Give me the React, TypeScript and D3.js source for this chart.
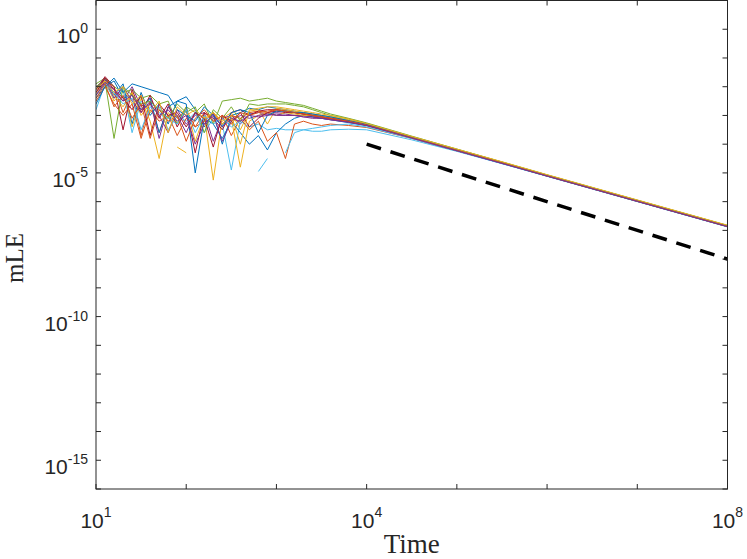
import { useEffect, useRef } from "react";
import * as d3 from "d3";

// log10(time) sample grid shared by all runs
const logTimes = [
  1.0, 1.1, 1.2, 1.3, 1.4, 1.5, 1.6, 1.7, 1.8, 1.9, 2.0, 2.1, 2.2, 2.3, 2.4, 2.5, 2.6,
  2.7, 2.8, 2.9, 3.0, 3.1, 3.2, 3.3, 3.4, 3.5, 3.6, 3.8, 4.0, 4.5, 5.0, 5.5, 6.0, 7.0, 8.0,
];

// log10(mLE) for each run, null = not positive (gap on the log axis)
const run01 = [-2.1,-1.7,-2.3,-1.9,-3.3,-2.2,-3.0,-2.6,-3.3,-2.5,-2.35,-2.8,-3.4,-2.9,-4.0,-3.0,-2.9,-2.75,-2.8,-2.7,-2.75,-2.8,-2.85,-2.9,-2.95,-3.0,-3.05,-3.18,-3.32,-3.77,-4.21,-4.65,-5.10,-5.98,-6.86];
const run02 = [-2.3,-1.8,-2.0,-2.9,-2.2,-3.7,-2.5,-3.6,-2.7,-3.1,-2.8,-3.4,-2.9,-3.2,-3.0,-3.7,-3.1,-2.9,-2.85,-2.9,-2.8,-2.85,-2.9,-2.95,-3.0,-3.05,-3.1,-3.2,-3.33,-3.77,-4.21,-4.66,-5.10,-5.98,-6.86];
const run03 = [-2.0,-1.75,-2.5,-2.1,-3.4,-2.4,-3.2,-4.5,-2.9,-3.3,-2.7,-3.9,-3.0,-5.25,-3.1,-2.9,-3.5,-2.85,-2.8,-3.3,-2.75,-2.8,-2.85,-2.9,-2.95,-3.0,-3.05,-3.15,-3.3,-3.75,-4.19,-4.63,-5.08,-5.96,-6.84];
const run04 = [-2.2,-1.8,-2.2,-2.5,-2.0,-2.7,-2.4,-3.0,-3.6,-2.8,-3.3,-3.0,-2.9,-3.9,-3.1,-3.0,-3.3,-2.95,-2.9,-2.95,-2.9,-2.95,-3.0,-3.0,-3.05,-3.1,-3.12,-3.22,-3.34,-3.78,-4.22,-4.66,-5.11,-5.99,-6.87];
const run05 = [-1.9,-1.7,-2.0,-2.2,-2.1,-2.4,-2.3,-2.6,-2.5,-3.3,-2.7,-2.9,-2.6,-3.3,-2.5,-2.45,-2.4,-2.5,-2.45,-2.4,-2.5,-2.55,-2.6,-2.65,-2.75,-2.85,-2.95,-3.1,-3.26,-3.72,-4.17,-4.62,-5.07,-5.95,-6.83];
const run06 = [-2.8,-1.9,-2.4,-2.1,-3.6,-2.5,-2.9,-2.7,-3.5,-3.0,-3.2,-2.9,-3.6,-3.1,-3.3,-4.9,-3.2,-3.4,-3.3,-3.5,-3.45,-3.5,-3.5,-3.5,-3.55,-3.55,-3.5,-3.48,-3.5,-3.85,-4.25,-4.68,-5.12,-6.0,-6.88];
const run07 = [-2.1,-1.65,-2.0,-3.5,-2.1,-2.9,-2.3,-3.1,-2.6,-3.4,-2.8,-4.3,-2.9,-3.1,-3.5,-2.9,-2.8,-3.0,-2.85,-2.8,-2.8,-2.85,-2.9,-2.95,-3.0,-3.05,-3.1,-3.2,-3.33,-3.77,-4.21,-4.65,-5.10,-5.98,-6.86];
const run08 = [-2.4,-2.0,-1.8,-2.4,-2.3,-2.8,-2.4,-3.6,-2.7,-2.5,-2.6,-5.0,-3.1,-3.3,-3.8,-3.2,-3.6,-4.0,-3.7,-4.2,-3.6,-3.3,-3.1,-3.0,-3.05,-3.1,-3.15,-3.25,-3.36,-3.79,-4.23,-4.67,-5.11,-5.99,-6.87];
const run09 = [-2.5,-2.0,-2.6,-3.0,-2.6,-3.8,-2.8,-3.2,-3.0,-3.7,-3.1,-3.4,-3.2,-2.9,-3.3,-3.0,-3.1,-3.5,-3.2,-3.9,-3.6,-4.5,-3.3,-3.2,-3.3,-3.35,-3.3,-3.35,-3.42,-3.8,-4.23,-4.66,-5.11,-5.99,-6.87];
const run10 = [-2.2,-1.9,-2.3,-2.7,-2.2,-3.0,-2.6,-3.0,null,-4.1,-4.3,null,-3.2,-2.9,-3.3,-3.1,-4.8,-3.2,-3.0,-2.9,-3.0,-2.9,-2.95,-3.0,-3.0,-3.05,-3.1,-3.2,-3.32,-3.76,-4.2,-4.64,-5.09,-5.97,-6.85];
const run11 = [-2.0,-1.75,-2.4,-2.0,-2.5,-2.9,-2.5,-3.8,-2.7,-3.0,-3.6,-2.9,-3.3,-3.0,-3.9,-3.2,-3.0,-3.1,-3.0,-2.95,-3.0,-3.0,-3.0,-3.05,-3.05,-3.1,-3.15,-3.22,-3.34,-3.78,-4.22,-4.66,-5.1,-5.98,-6.86];
const run12 = [-2.0,-1.8,-3.8,-2.0,-2.3,-2.6,-2.5,-2.8,-3.1,-2.6,-2.9,-2.7,-3.6,-2.8,-3.1,-2.7,-3.2,-2.6,-2.65,-2.6,-2.6,-2.6,-2.65,-2.7,-2.8,-2.9,-3.0,-3.12,-3.28,-3.74,-4.18,-4.62,-5.07,-5.95,-6.83];
const run13 = [-2.3,-1.9,-2.2,-2.6,-2.4,-3.5,-2.7,-2.9,-3.1,-3.3,-2.8,-3.6,-3.0,-3.3,-3.1,-3.4,-3.2,null,-4.95,-4.5,null,-4.3,-3.6,-3.5,-3.45,-3.4,-3.35,-3.3,-3.4,-3.8,-4.23,-4.67,-5.11,-5.99,-6.87];
const run14 = [-2.2,-1.7,-2.1,-2.4,-2.8,-2.3,-3.7,-2.6,-3.0,-2.9,-3.4,-2.9,-3.1,-4.1,-3.0,-3.2,-2.9,-3.4,-3.1,-2.9,-2.85,-2.9,-2.9,-2.95,-3.0,-3.05,-3.1,-3.2,-3.33,-3.77,-4.21,-4.65,-5.1,-5.98,-6.86];
const run15 = [-2.6,-2.0,-1.7,-2.2,-1.9,-2.0,-2.1,-2.2,-2.3,-2.8,-3.0,-3.2,-2.7,-3.0,-3.4,-2.9,-2.8,-2.9,-3.6,-3.0,-2.85,-2.85,-2.9,-2.9,-2.95,-3.0,-3.05,-3.18,-3.31,-3.76,-4.2,-4.65,-5.09,-5.97,-6.85];
const run16 = [-2.4,-1.9,-2.7,-2.3,-3.1,-2.6,-3.8,-2.8,-3.2,-3.0,-3.9,-3.1,-2.8,-3.2,-3.0,-3.3,-2.9,-3.0,-2.9,-2.85,-2.8,-2.85,-2.9,-2.95,-3.0,-3.05,-3.1,-3.2,-3.33,-3.77,-4.21,-4.65,-5.1,-5.98,-6.86];
const run17 = [-2.1,-1.8,-2.2,-2.0,-2.6,-2.3,-2.9,-2.5,-3.6,-2.7,-3.0,-2.8,-3.1,-2.9,-3.2,-3.0,-4.0,-2.8,-2.75,-2.7,-2.7,-2.75,-2.8,-2.85,-2.9,-2.95,-3.0,-3.12,-3.28,-3.73,-4.17,-4.61,-5.06,-5.94,-6.82];
const run18 = [-2.3,-1.85,-2.1,-2.5,-2.3,-2.8,-2.6,-3.0,-2.8,-3.2,-3.0,-4.0,-3.3,-2.95,-3.4,-3.1,-3.2,-3.0,-3.05,-3.0,-2.95,-3.0,-3.0,-3.05,-3.1,-3.1,-3.15,-3.24,-3.35,-3.79,-4.23,-4.67,-5.11,-5.99,-6.87];

const runs = [run01, run02, run03, run04, run05, run06, run07, run08, run09,
  run10, run11, run12, run13, run14, run15, run16, run17, run18];

// MATLAB default color order
const colorOrder = ["#0072BD", "#D95319", "#EDB120", "#7E2F8E", "#77AC30", "#4DBEEE", "#A2142F"];

// reference slope ~ 1/t
const refTimes = [1e4, 1e8];
const refValues = [1e-4, 1e-8];

const xTickExps = [1, 2, 3, 4, 5, 6, 7, 8];
const xLabelExps = [1, 4, 8];
const yTickExps = [1, 0, -1, -2, -3, -4, -5, -6, -7, -8, -9, -10, -11, -12, -13, -14, -15, -16];
const yLabelExps = [0, -5, -10, -15];

export default function App() {
  const ref = useRef<SVGSVGElement>(null);

  useEffect(() => {
    document.body.style.margin = "0";
    if (!ref.current) return;
    const W = 747, H = 559;
    const L = 96, R = 727.5, T = 0.5, B = 489;
    const axisColor = "#262626";

    const svg = d3.select(ref.current).attr("width", W).attr("height", H);
    svg.selectAll("*").remove();

    const x = d3.scaleLog().domain([1e1, 1e8]).range([L, R]);
    const y = d3.scaleLog().domain([1e-16, 1e1]).range([B, T]);

    svg.append("defs").append("clipPath").attr("id", "plot-clip")
      .append("rect").attr("x", L).attr("y", T).attr("width", R - L).attr("height", B - T);

    const plot = svg.append("g").attr("clip-path", "url(#plot-clip)");

    const line = d3.line<[number, number | null]>()
      .defined(d => d[1] != null)
      .x(d => x(Math.pow(10, d[0])))
      .y(d => y(Math.pow(10, d[1] as number)));

    runs.forEach((r, i) => {
      const pts = logTimes.map((t, k) => [t, r[k]] as [number, number | null]);
      plot.append("path")
        .attr("d", line(pts) ?? "")
        .attr("fill", "none")
        .attr("stroke", colorOrder[i % colorOrder.length])
        .attr("stroke-width", 1)
        .attr("stroke-linejoin", "round");
    });

    plot.append("path")
      .attr("d", d3.line<number>().x((_, k) => x(refTimes[k])).y(v => y(v))(refValues) ?? "")
      .attr("fill", "none")
      .attr("stroke", "#000")
      .attr("stroke-width", 3.5)
      .attr("stroke-dasharray", "15 10");

    // box
    svg.append("rect")
      .attr("x", L).attr("y", T).attr("width", R - L).attr("height", B - T)
      .attr("fill", "none").attr("stroke", axisColor).attr("stroke-width", 1);

    const tickLen = 5;
    const ticks = svg.append("g").attr("stroke", axisColor).attr("stroke-width", 1);
    xTickExps.forEach(e => {
      const px = x(Math.pow(10, e));
      ticks.append("line").attr("x1", px).attr("x2", px).attr("y1", B).attr("y2", B - tickLen);
      ticks.append("line").attr("x1", px).attr("x2", px).attr("y1", T).attr("y2", T + tickLen);
    });
    yTickExps.forEach(e => {
      const py = y(Math.pow(10, e));
      ticks.append("line").attr("x1", L).attr("x2", L + tickLen).attr("y1", py).attr("y2", py);
      ticks.append("line").attr("x1", R).attr("x2", R - tickLen).attr("y1", py).attr("y2", py);
    });

    const labelFont = "'Liberation Sans', Arial, Helvetica, sans-serif";
    xLabelExps.forEach(e => {
      const t = svg.append("text")
        .attr("x", x(Math.pow(10, e))).attr("y", 528)
        .attr("text-anchor", "middle").attr("font-family", labelFont)
        .attr("font-size", 21).attr("fill", axisColor);
      t.append("tspan").text("10");
      t.append("tspan").attr("dy", -11).attr("font-size", 14).text(String(e));
    });
    yLabelExps.forEach(e => {
      const py = y(Math.pow(10, e));
      const t = svg.append("text")
        .attr("x", 88).attr("y", py + 14)
        .attr("text-anchor", "end").attr("font-family", labelFont)
        .attr("font-size", 21).attr("fill", axisColor);
      t.append("tspan").text("10");
      t.append("tspan").attr("dy", -10).attr("font-size", 14).text(String(e));
    });

    const titleFont = "'Liberation Serif', 'DejaVu Serif', serif";
    svg.append("text")
      .attr("x", (L + R) / 2).attr("y", 553)
      .attr("text-anchor", "middle").attr("font-family", titleFont)
      .attr("font-size", 27).attr("fill", axisColor)
      .text("Time");
    svg.append("text")
      .attr("transform", "translate(23,258) rotate(-90)")
      .attr("text-anchor", "middle").attr("font-family", titleFont)
      .attr("font-size", 25).attr("fill", axisColor)
      .text("mLE");
  }, []);

  return <svg ref={ref} style={{ display: "block" }} />;
}
